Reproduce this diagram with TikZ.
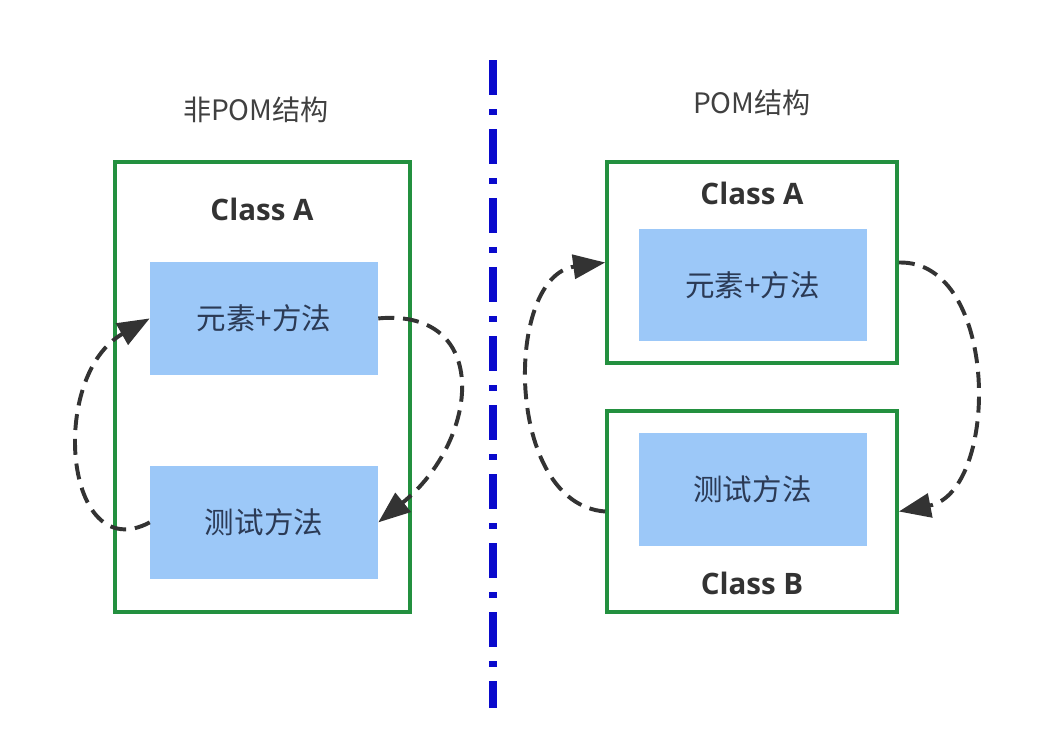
\documentclass[tikz,border=0pt]{standalone}
\usepackage{fontspec}
\usepackage{xcolor}
\usepackage{tikz}
\usetikzlibrary{arrows.meta,positioning,calc}
\setmainfont{Noto Sans CJK SC}
\newfontfamily\classfont{Open Sans}
\definecolor{boxgreen}{HTML}{23903F}
\definecolor{cellblue}{HTML}{9CC8F8}
\definecolor{celltext}{HTML}{2B3A55}
\definecolor{divblue}{HTML}{0A0ACC}
\definecolor{flowgray}{HTML}{333333}

\begin{document}
\begin{tikzpicture}[
    classbox/.style={rectangle, draw=boxgreen, line width=2.6pt, inner sep=0pt},
    cell/.style={rectangle, fill=cellblue, inner sep=0pt, minimum width=5.7cm, minimum height=2.82cm, text=celltext, font=\fontsize{21}{25}\selectfont},
    classlabel/.style={font=\classfont\bfseries\fontsize{21}{25}\selectfont, text=flowgray},
    titlelabel/.style={font=\fontsize{20}{24}\selectfont, text=black!75},
    flow/.style={draw=flowgray, line width=2.8pt, dash pattern=on 0.4cm off 0.22cm, -{Triangle[length=0.8cm,width=0.6cm]}}
]
    % canvas
    \useasboundingbox (0,0) rectangle (26.575,-18.5);

    % Left: non POM
    \node[titlelabel] (ltitle) at (6.4,-2.75) {非POM结构};
    \node[classbox, minimum width=7.375cm, minimum height=11.25cm] (lbox) at (6.5625,-9.675) {};
    \node[classlabel] (lclassA) at (6.55,-5.225) {Class A};
    \node[cell] (lelem) at (6.6,-7.96) {元素+方法};
    \node[cell] (ltest) at (6.6,-13.06) {测试方法};

    % Divider
    \coordinate (divtop) at (12.325,-1.5);
    \coordinate (divbot) at (12.325,-17.7);
    \draw[divblue, line width=5pt, dash pattern=on 0.875cm off 0.35cm on 0.15cm off 0.35cm] (divtop) -- (divbot);

    % Right: POM
    \node[titlelabel] (rtitle) at (18.8,-2.575) {POM结构};
    \node[classbox, minimum width=7.25cm, minimum height=5.025cm] (rboxA) at (18.8,-6.5625) {};
    \node[classbox, minimum width=7.25cm, minimum height=5.025cm] (rboxB) at (18.8,-12.7875) {};
    \node[classlabel] (rclassA) at (18.8,-4.825) {Class A};
    \node[cell] (relem) at (18.8125,-7.125) {元素+方法};
    \node[cell] (rtest) at (18.8125,-12.2375) {测试方法};
    \node[classlabel] (rclassB) at (18.8,-14.575) {Class B};

    % Connections - left
    \draw[flow] (lelem.east) .. controls (12.3,-7.7) and (12.0,-11.0) .. (ltest.east);
    \draw[flow] (ltest.west) .. controls (1.6,-14.2) and (1.2,-9.4) .. (lelem.west);

    % Connections - right
    \draw[flow] (rboxA.east) .. controls (25.0,-6.5) and (25.0,-12.3) .. (rboxB.east);
    \draw[flow] (rboxB.west) .. controls (12.6,-12.6) and (12.6,-6.9) .. (rboxA.west);
\end{tikzpicture}
\end{document}
